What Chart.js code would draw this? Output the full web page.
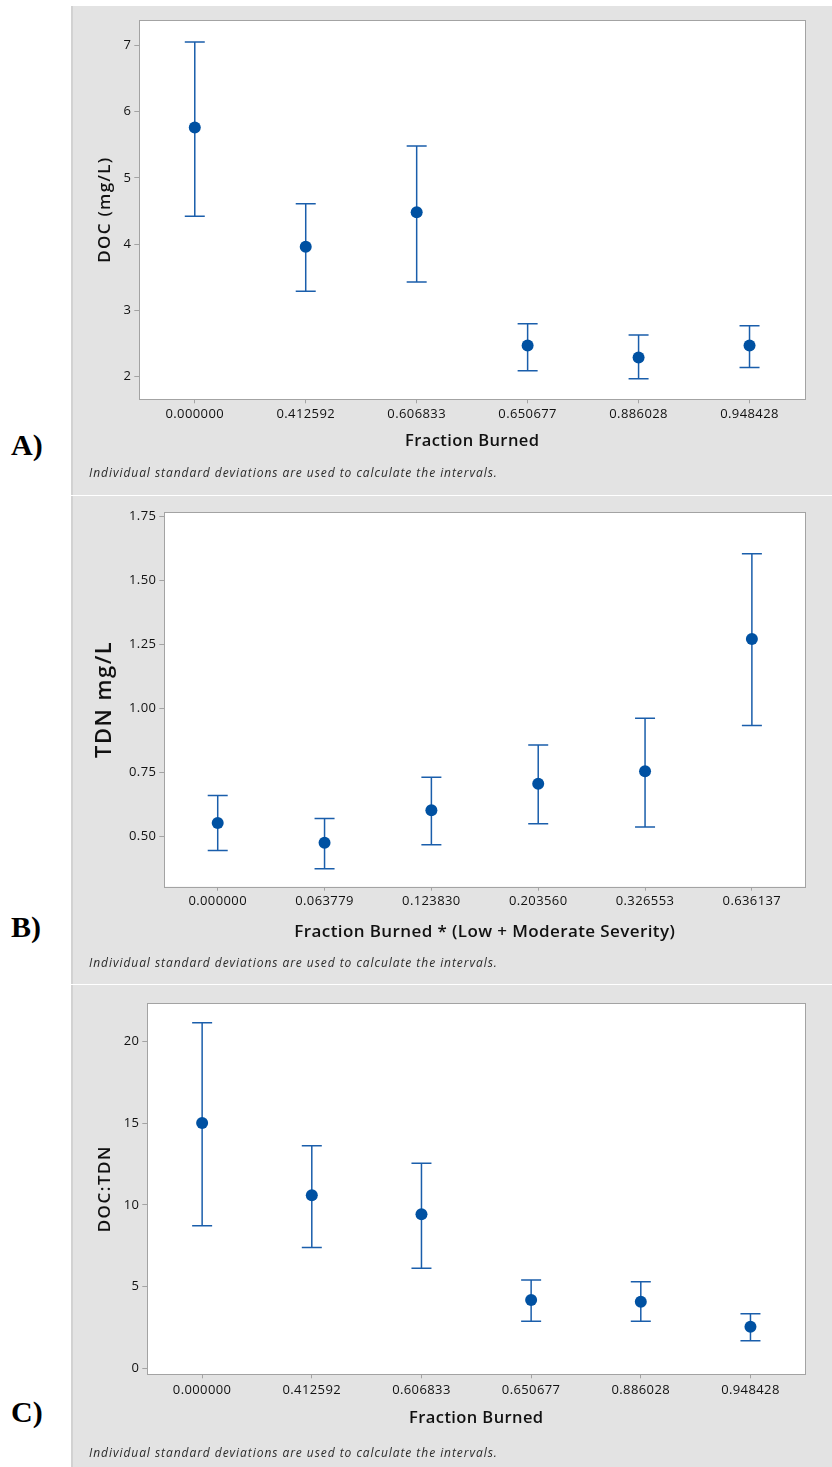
<!DOCTYPE html>
<html>
<head>
<meta charset="utf-8">
<script src="https://cdn.jsdelivr.net/npm/chart.js@4.4.1/dist/chart.umd.min.js"></script>
<style>
  html, body { margin: 0; padding: 0; background: #fff; }
  body { position: relative; width: 832px; height: 1467px; overflow: hidden; font-family: "Open Sans", sans-serif; }
  .panel { position: absolute; left: 71px; width: 761px; background: #e3e3e3; border-left: 2px solid #d2d2d2; box-sizing: border-box; }
  canvas { position: absolute; left: 73px; }
  .note { position: absolute; left: 89px; font-size: 12px; line-height: 14px; font-style: italic; letter-spacing: 0.95px; color: #2a2a2a; white-space: nowrap; }
  .tag { position: absolute; left: 11px; font-family: "Liberation Serif", "Times New Roman", serif; font-weight: bold; font-size: 30px; line-height: 34px; color: #000; }
</style>
</head>
<body>
<div class="panel" style="top:6px;height:489px"></div>
<div class="panel" style="top:496px;height:488px"></div>
<div class="panel" style="top:985px;height:482px"></div>

<canvas id="chartA" width="759" height="489" style="top:6px"></canvas>
<canvas id="chartB" width="759" height="488" style="top:496px"></canvas>
<canvas id="chartC" width="759" height="482" style="top:985px"></canvas>

<div class="note" style="top:466px">Individual standard deviations are used to calculate the intervals.</div>
<div class="note" style="top:956px">Individual standard deviations are used to calculate the intervals.</div>
<div class="note" style="top:1446px">Individual standard deviations are used to calculate the intervals.</div>

<div class="tag" style="top:428px">A)</div>
<div class="tag" style="top:910px">B)</div>
<div class="tag" style="top:1395px">C)</div>

<script>
// --- dados ---
const fracBurned = ["0.000000", "0.412592", "0.606833", "0.650677", "0.886028", "0.948428"];
const fracLowMod = ["0.000000", "0.063779", "0.123830", "0.203560", "0.326553", "0.636137"];

const docMean = [5.76, 3.96, 4.48, 2.47, 2.29, 2.47];
const docLow  = [4.42, 3.29, 3.43, 2.09, 1.97, 2.14];
const docHigh = [7.05, 4.61, 5.48, 2.80, 2.63, 2.77];

const tdnMean = [0.551, 0.474, 0.601, 0.705, 0.754, 1.271];
const tdnLow  = [0.444, 0.372, 0.466, 0.548, 0.536, 0.933];
const tdnHigh = [0.659, 0.569, 0.730, 0.856, 0.961, 1.605];

const ratioMean = [15.02, 10.59, 9.43, 4.18, 4.08, 2.55];
const ratioLow  = [8.73, 7.39, 6.12, 2.88, 2.88, 1.69];
const ratioHigh = [21.16, 13.63, 12.55, 5.41, 5.30, 3.34];

const ticksDoc = [2, 3, 4, 5, 6, 7];
const ticksTdn = [0.50, 0.75, 1.00, 1.25, 1.50, 1.75];
const ticksRatio = [0, 5, 10, 15, 20];

const BLUE_DOT = "#0051a2";
const BLUE_BAR = "#1a5eab";
const FRAME = "#a3a3a3";

Chart.defaults.font.family = "'Open Sans', sans-serif";
Chart.defaults.color = "#111";
Chart.defaults.animation = false;

// espacamento de letras por escala (titulo / rotulos)
function spaced(scale, method, px) {
    if (!scale || scale["_sp_" + method]) return;
    const orig = scale[method];
    scale[method] = function (...args) {
        const ctx = this.ctx;
        const prev = ctx.letterSpacing;
        ctx.letterSpacing = px + "px";
        orig.apply(this, args);
        ctx.letterSpacing = prev;
    };
    scale["_sp_" + method] = true;
}

// fundo branco, moldura e barras de erro
const frameAndBars = {
    id: "frameAndBars",
    beforeDraw(chart, args, opts) {
        spaced(chart.scales.x, "drawLabels", 0.4);
        spaced(chart.scales.y, "drawLabels", 0.4);
        spaced(chart.scales.x, "drawTitle", opts.xSpacing);
        spaced(chart.scales.y, "drawTitle", opts.ySpacing);
        const {ctx, chartArea: a} = chart;
        ctx.save();
        ctx.fillStyle = "#fff";
        ctx.fillRect(a.left, a.top, a.right - a.left, a.bottom - a.top);
        ctx.restore();
    },
    beforeDatasetsDraw(chart, args, opts) {
        const {ctx, chartArea: a, scales: {x, y}} = chart;
        ctx.save();
        ctx.strokeStyle = FRAME;
        ctx.lineWidth = 1;
        ctx.strokeRect(Math.round(a.left) + 0.5, Math.round(a.top) + 0.5,
            Math.round(a.right - a.left), Math.round(a.bottom - a.top));
        ctx.strokeStyle = BLUE_BAR;
        ctx.lineWidth = 1.5;
        opts.low.forEach((lo, i) => {
            const px = x.getPixelForValue(i);
            const yl = y.getPixelForValue(lo);
            const yh = y.getPixelForValue(opts.high[i]);
            ctx.beginPath();
            ctx.moveTo(px, yl); ctx.lineTo(px, yh);
            ctx.moveTo(px - 10, yl); ctx.lineTo(px + 10, yl);
            ctx.moveTo(px - 10, yh); ctx.lineTo(px + 10, yh);
            ctx.stroke();
        });
        ctx.restore();
    }
};

function makeChart(id, cfg) {
    const canvas = document.getElementById(id);
    const W = canvas.width, H = canvas.height;
    return new Chart(canvas, {
        type: "line",
        data: {
            labels: cfg.labels,
            datasets: [{
                data: cfg.mean,
                showLine: false,
                pointRadius: 6,
                pointHoverRadius: 6,
                pointBackgroundColor: BLUE_DOT,
                pointBorderWidth: 0
            }]
        },
        options: {
            responsive: false,
            devicePixelRatio: 1,
            layout: { padding: { left: 0, top: cfg.area.top, right: W - cfg.area.right, bottom: 0 } },
            plugins: {
                legend: { display: false },
                tooltip: { enabled: false },
                frameAndBars: { low: cfg.low, high: cfg.high, xSpacing: cfg.xSpacing, ySpacing: cfg.ySpacing }
            },
            scales: {
                x: {
                    type: "category",
                    offset: true,
                    grid: { offset: false, drawOnChartArea: false, drawTicks: true, tickLength: 4, color: FRAME },
                    border: { display: false },
                    ticks: { font: { size: 13, weight: "500" }, padding: cfg.xTickPad, maxRotation: 0, autoSkip: false },
                    title: {
                        display: true, text: cfg.xTitle,
                        font: { size: cfg.xTitleSize, weight: "600" },
                        padding: { top: 0, bottom: cfg.xTitlePad }
                    },
                    afterFit: s => { s.height = H - cfg.area.bottom; }
                },
                y: {
                    min: cfg.min, max: cfg.max,
                    grid: { drawOnChartArea: false, drawTicks: true, tickLength: 5, color: FRAME },
                    border: { display: false },
                    ticks: { font: { size: 13, weight: "500" }, padding: 3, includeBounds: false, callback: cfg.fmt },
                    afterBuildTicks: s => { s.ticks = cfg.ticks.map(v => ({ value: v })); },
                    title: {
                        display: true, text: cfg.yTitle,
                        font: { size: cfg.yTitleSize, weight: cfg.yTitleWeight || "600" },
                        padding: { top: cfg.yTitlePad, bottom: 0 }
                    },
                    afterFit: s => { s.width = cfg.area.left; }
                }
            }
        },
        plugins: [frameAndBars]
    });
}

// ------------------ A) DOC ------------------
makeChart("chartA", {
    labels: fracBurned, mean: docMean, low: docLow, high: docHigh,
    ticks: ticksDoc, min: 1.66, max: 7.38, fmt: v => String(v),
    area: { left: 66.3, top: 14, right: 732, bottom: 393.3 },
    xTickPad: 3.2, xTitle: "Fraction Burned", xTitleSize: 16.5, xTitlePad: 43.4, xSpacing: 0.4,
    yTitle: "DOC (mg/L)", yTitleSize: 17, yTitlePad: 21.8, ySpacing: 1.3
});

// ------------------ B) TDN ------------------
makeChart("chartB", {
    labels: fracLowMod, mean: tdnMean, low: tdnLow, high: tdnHigh,
    ticks: ticksTdn, min: 0.302, max: 1.768, fmt: v => Number(v).toFixed(2),
    area: { left: 91.3, top: 16, right: 732.3, bottom: 390.7 },
    xTickPad: 3.2, xTitle: "Fraction Burned * (Low + Moderate Severity)", xTitleSize: 17, xTitlePad: 42.1, xSpacing: 0.4,
    yTitle: "TDN mg/L", yTitleSize: 22, yTitlePad: 18.8, ySpacing: 1.5
});

// ------------------ C) DOC:TDN ------------------
makeChart("chartC", {
    labels: fracBurned, mean: ratioMean, low: ratioLow, high: ratioHigh,
    ticks: ticksRatio, min: -0.367, max: 22.35, fmt: v => String(v),
    area: { left: 74.3, top: 18.3, right: 732.3, bottom: 389.3 },
    xTickPad: 4.6, xTitle: "Fraction Burned", xTitleSize: 16.5, xTitlePad: 38.8, xSpacing: 0.4,
    yTitle: "DOC:TDN", yTitleSize: 17, yTitlePad: 21.8, ySpacing: 1.5
});
</script>
</body>
</html>
